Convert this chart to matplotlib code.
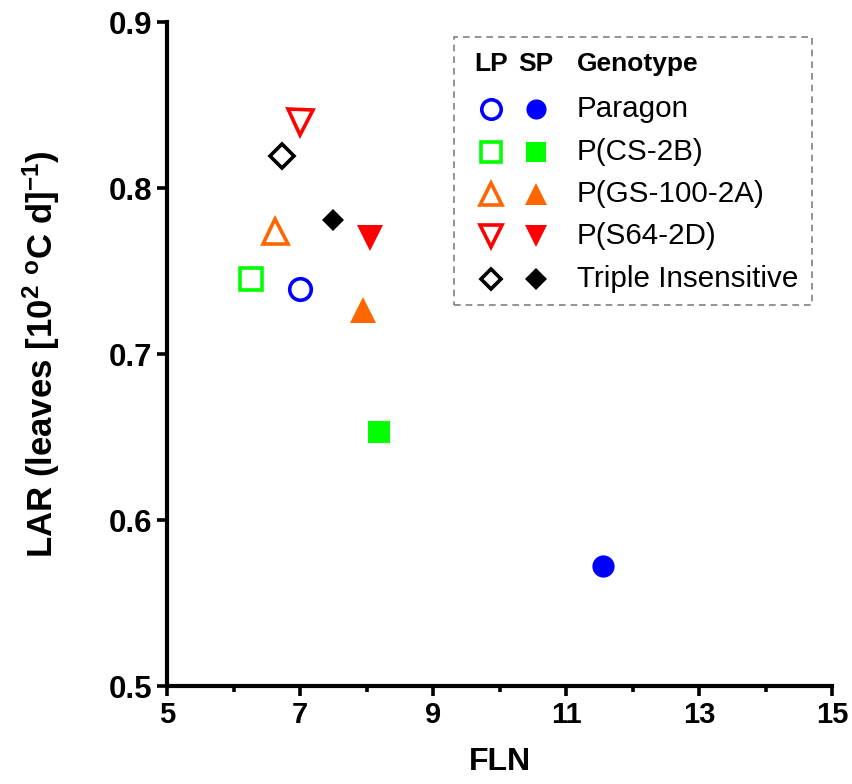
import matplotlib
matplotlib.use("Agg")
import matplotlib.pyplot as plt
from matplotlib.patches import Rectangle

plt.rcParams['font.family'] = ['Liberation Sans', 'DejaVu Sans']
plt.rcParams['mathtext.fontset'] = 'custom'
plt.rcParams['mathtext.rm'] = 'Liberation Sans:bold'
plt.rcParams['mathtext.bf'] = 'Liberation Sans:bold'
plt.rcParams['mathtext.it'] = 'Liberation Sans:bold'
plt.rcParams['mathtext.default'] = 'bf'

# ---- data ----
genotypes = ["Paragon", "P(CS-2B)", "P(GS-100-2A)", "P(S64-2D)", "Triple Insensitive"]
lp_fln = [7.00, 6.26, 6.62, 7.00, 6.73]
lp_lar = [0.739, 0.745, 0.774, 0.840, 0.819]
sp_fln = [11.56, 8.19, 7.94, 8.06, 7.50]
sp_lar = [0.572, 0.653, 0.7265, 0.770, 0.781]
x_ticks = [5, 7, 9, 11, 13, 15]
x_minor = [6, 8, 10, 12, 14]
y_ticks = [0.5, 0.6, 0.7, 0.8, 0.9]
y_tick_labels = ["0.5", "0.6", "0.7", "0.8", "0.9"]

colors = ["#0000FF", "#00FF00", "#FF6600", "#FF0000", "#000000"]
markers = ["o", "s", "^", "v", "D"]
msizes = [15.5, 15.5, 18, 18, 12]
msizes_f = [16, 15.6, 18.5, 18.5, 11.5]

fig = plt.figure(figsize=(8.52, 7.84), dpi=100)
ax = fig.add_axes([167/852, 1 - 686/784, 665/852, 664/784])

for i in range(len(genotypes)):
    ax.plot(lp_fln[i], lp_lar[i], linestyle='none', marker=markers[i], ms=msizes[i],
            mfc='white', mec=colors[i], mew=2.6, clip_on=False, zorder=3)
    ax.plot(sp_fln[i], sp_lar[i], linestyle='none', marker=markers[i], ms=msizes_f[i],
            mfc=colors[i], mec=colors[i], mew=0, clip_on=False, zorder=3)

ax.set_xlim(5, 15)
ax.set_ylim(0.5, 0.9)
ax.set_xticks(x_ticks)
ax.set_xticks(x_minor, minor=True)
ax.set_yticks(y_ticks)
ax.set_yticklabels(y_tick_labels)

for s in ['top', 'right']:
    ax.spines[s].set_visible(False)
for s in ['left', 'bottom']:
    ax.spines[s].set_linewidth(3)
ax.tick_params(axis='both', which='major', length=7.5, width=2.6, direction='out', pad=3)
ax.tick_params(axis='x', which='minor', length=4.5, width=2.6, direction='out')
for lab in ax.get_xticklabels():
    lab.set_fontsize(21)
    lab.set_fontweight('bold')
for lab in ax.get_yticklabels():
    lab.set_fontsize(22.5)
    lab.set_fontweight('bold')

ax.set_xlabel("FLN", fontsize=23, fontweight='bold', labelpad=13)
ax.set_ylabel(r"LAR (leaves [10$^{2}$ $^{o}$C d]$^{-1}$)", fontsize=25, fontweight='bold', labelpad=34)

# ---- legend (manual) ----
tr = ax.transAxes
box = Rectangle((0.4316, 0.5738), 0.970 - 0.4316, 0.9774 - 0.5738, transform=tr,
                fill=False, edgecolor='#808080', linestyle=(0, (4, 3)), linewidth=1.2,
                clip_on=False, zorder=4)
ax.add_patch(box)
col_lp, col_sp, col_txt = 0.487, 0.555, 0.6165
hdr_y = 0.9367
rows_y = [0.869, 0.804, 0.741, 0.678, 0.613]
ax.text(col_lp, hdr_y, "LP", transform=tr, ha='center', va='center', fontsize=19, fontweight='bold')
ax.text(col_sp, hdr_y, "SP", transform=tr, ha='center', va='center', fontsize=19, fontweight='bold')
ax.text(col_txt, hdr_y, "Genotype", transform=tr, ha='left', va='center', fontsize=19, fontweight='bold')
leg_ms = [14, 14, 16, 16, 10.5]
for i, g in enumerate(genotypes):
    y = rows_y[i]
    ax.plot(col_lp, y, transform=tr, marker=markers[i], ms=leg_ms[i], mfc='white',
            mec=colors[i], mew=2.6, linestyle='none', clip_on=False, zorder=5)
    ax.plot(col_sp, y, transform=tr, marker=markers[i], ms=leg_ms[i] + 0.5, mfc=colors[i],
            mec=colors[i], mew=0, linestyle='none', clip_on=False, zorder=5)
    ax.text(col_txt, y, g, transform=tr, ha='left', va='center', fontsize=21.3)

fig.savefig("out.png", dpi=100)
